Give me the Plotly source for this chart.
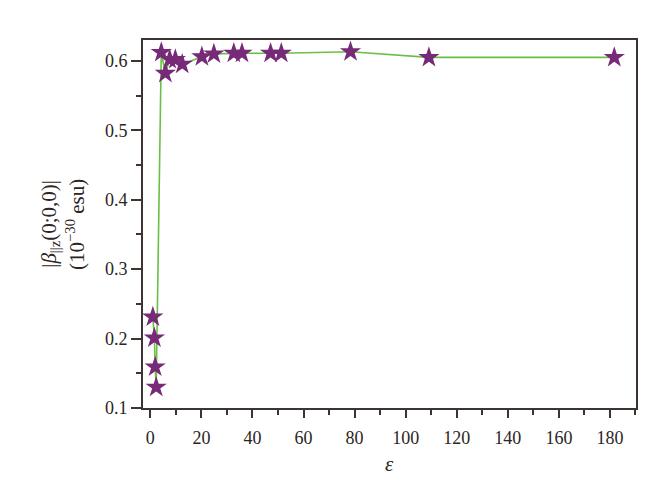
import plotly.graph_objects as go

eps = [1.0, 1.6, 1.9, 2.3, 4.3, 5.9, 7.6, 9.8, 12.5, 20.2, 24.9, 32.7, 35.9, 47.1, 51.3, 78.4, 109.1, 181.7]
beta = [0.231, 0.201, 0.159, 0.130, 0.612, 0.582, 0.602, 0.602, 0.595, 0.606, 0.610, 0.611, 0.611, 0.611, 0.611, 0.613, 0.605, 0.605]

x_ticks = list(range(0, 181, 20))
y_ticks = [0.1, 0.2, 0.3, 0.4, 0.5, 0.6]

font_family = "Liberation Serif, Times New Roman, serif"
axis_col = "#3b3430"
text_col = "#2b2523"

fig = go.Figure()
fig.add_trace(go.Scatter(
    x=eps, y=beta, mode="lines+markers",
    line=dict(color="#6cbf45", width=1.6),
    marker=dict(symbol="star", size=16, color="#772a78", line=dict(width=0)),
    showlegend=False,
))

fig.update_layout(
    width=660, height=491,
    margin=dict(l=135, r=32, t=32, b=91),
    paper_bgcolor="white", plot_bgcolor="white",
    font=dict(family=font_family, size=18, color=text_col),
)
fig.update_xaxes(
    range=[-2.86, 190.2], tickvals=x_ticks, ticks="outside", ticklen=8, tickwidth=1.8,
    tickcolor=axis_col, showline=True, linecolor=axis_col, linewidth=2, mirror=True,
    showgrid=False, zeroline=False, ticklabelstandoff=4,
    minor=dict(dtick=10, ticks="outside", ticklen=5, tickwidth=1.8, tickcolor=axis_col, showgrid=False),
)
fig.update_yaxes(
    range=[0.1, 0.63], tickvals=y_ticks, tickformat=".1f", ticks="outside", ticklen=10, tickwidth=1.8,
    tickcolor=axis_col, showline=True, linecolor=axis_col, linewidth=2, mirror=True,
    showgrid=False, zeroline=False,
    minor=dict(dtick=0.05, ticks="outside", ticklen=5, tickwidth=1.8, tickcolor=axis_col, showgrid=False),
)
fig.add_annotation(
    text="|<i>β</i><sub>||z</sub>(0;0,0)|",
    xref="paper", yref="paper", x=-0.189, y=0.5, xanchor="center", yanchor="middle",
    textangle=-90, showarrow=False, font=dict(size=21, family=font_family, color=text_col),
)
fig.add_annotation(
    text="(10<sup>−30</sup> esu)",
    xref="paper", yref="paper", x=-0.138, y=0.5, xanchor="center", yanchor="middle",
    textangle=-90, showarrow=False, font=dict(size=21, family=font_family, color=text_col),
)
fig.add_annotation(
    text="<i>ε</i>",
    xref="paper", yref="paper", x=0.5, y=-0.152, xanchor="center", yanchor="middle",
    showarrow=False, font=dict(size=21, family=font_family, color=text_col),
)
fig.write_html("out.html")
